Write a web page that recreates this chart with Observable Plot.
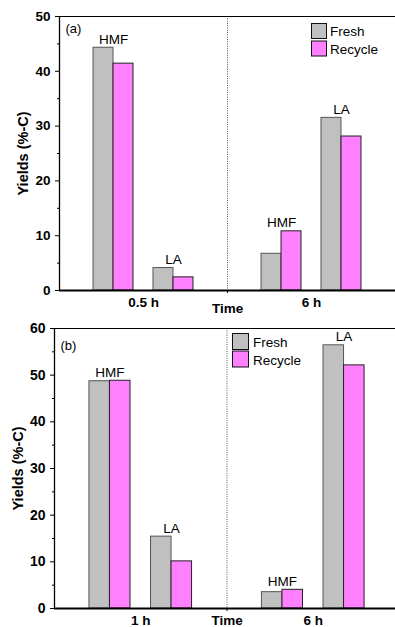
<!DOCTYPE html>
<html>
<head>
<meta charset="utf-8">
<script src="https://cdn.jsdelivr.net/npm/d3@7"></script>
<script src="https://cdn.jsdelivr.net/npm/@observablehq/plot@0.6"></script>
<style>
  html, body { margin: 0; padding: 0; background: #fff; }
  #wrap { position: relative; width: 395px; height: 627px; overflow: hidden; background: #fff; }
  #wrap > svg, #wrap > figure { position: absolute; left: 0; margin: 0; }
  .leg { position: absolute; left: 0; top: 0; }
</style>
</head>
<body>
<div id="wrap"></div>
<script>
// ---- data ----
const series = ["Fresh", "Recycle"];
const seriesColors = ["#c0c0c0", "#ff80ff"];
const products = ["HMF", "LA"];

const timesA = ["0.5 h", "6 h"];
const freshA = [[44.3, 4.1], [6.7, 31.5]];     // [time][product]
const recycleA = [[41.4, 2.4], [10.8, 28.1]];

const timesB = ["1 h", "6 h"];
const freshB = [[48.7, 15.4], [3.5, 56.4]];
const recycleB = [[48.8, 10.1], [4.0, 52.1]];

const yTicksA = [0, 10, 20, 30, 40, 50];
const yTicksB = [0, 10, 20, 30, 40, 50, 60];

// ---- layout constants ----
const OFF = 0.357, W = 0.238;
const FONT = "'Liberation Sans', Arial, Helvetica, sans-serif";

function panel(cfg) {
  const rows = [], labels = [];
  cfg.times.forEach((t, i) => products.forEach((p, j) => {
    const c = 1 + 2 * i + (j === 0 ? -OFF : OFF);
    rows.push({s: series[0], x1: c - W, x2: c, y: cfg.fresh[i][j]});
    rows.push({s: series[1], x1: c, x2: c + W, y: cfg.recycle[i][j]});
    labels.push({x: c, y: Math.max(cfg.fresh[i][j], cfg.recycle[i][j]), t: p});
  }));
  const ymax = cfg.yTicks[cfg.yTicks.length - 1];
  const minor = d3.range(5, ymax, 10);
  return Plot.plot({
    width: 395, height: cfg.height,
    marginTop: cfg.mt, marginBottom: cfg.mb, marginLeft: cfg.ml, marginRight: 0,
    style: {fontFamily: FONT, background: "transparent", color: "#000", overflow: "visible"},
    x: {domain: [0, 4], range: [cfg.ml, cfg.ml + 4 * cfg.unit]},
    y: {domain: [0, ymax]},
    marks: [
      Plot.ruleX([2], {stroke: "#555", strokeWidth: 1, strokeDasharray: "1,1.3"}),
      Plot.rect(rows.filter(d => d.s === series[0]), {x1: "x1", x2: "x2", y1: 0, y2: "y", fill: seriesColors[0], stroke: "#555", strokeWidth: 1}),
      Plot.rect(rows.filter(d => d.s === series[1]), {x1: "x1", x2: "x2", y1: 0, y2: "y", fill: seriesColors[1], stroke: "#222", strokeWidth: 1}),
      Plot.text(labels, {x: "x", y: "y", text: "t", lineAnchor: "bottom", dy: -4, fontSize: 13.5, fill: "#000"}),
      Plot.ruleY([ymax], {stroke: "#000", strokeWidth: 1.2}),
      Plot.ruleY([0], {stroke: "#000", strokeWidth: 2}),
      Plot.ruleX([0], {stroke: "#000", strokeWidth: 1.3}),
      Plot.axisY({ticks: cfg.yTicks, tickSize: 4, tickPadding: 5, fontSize: cfg.tickFont, fontWeight: "bold", label: null, tickFormat: d => d}),
      Plot.axisY({ticks: minor, tickSize: 2, text: null, label: null}),
      Plot.axisX({ticks: [1, 3], tickFormat: d => cfg.times[(d - 1) / 2], tickSize: 0, tickPadding: 7, fontSize: 13.5, fontWeight: "bold", label: null}),
      Plot.axisX({ticks: [2], tickSize: 3, text: null, label: null}),
      Plot.text([{x: 2, t: "Time"}], {x: "x", text: "t", frameAnchor: "bottom", lineAnchor: "top", dy: cfg.timeDy, fontSize: 13.5, fontWeight: "bold"}),
      Plot.text([cfg.tag], {frameAnchor: "top-left", textAnchor: "start", lineAnchor: "top", dx: 6, dy: cfg.tagDy, fontSize: 13}),
      Plot.text(["Yields (%-C)"], {frameAnchor: "left", rotate: -90, dx: -36, textAnchor: "middle", lineAnchor: "middle", fontSize: 14.5, fontWeight: "bold"})
    ]
  });
}

const wrap = document.getElementById("wrap");

const pA = panel({times: timesA, fresh: freshA, recycle: recycleA, yTicks: yTicksA,
  height: 318, mt: 16, mb: 28, ml: 59, unit: 84, tag: "(a)", tagDy: 7, tickFont: 13.5, timeDy: 13});
pA.style.top = "0px";
wrap.appendChild(pA);

const pB = panel({times: timesB, fresh: freshB, recycle: recycleB, yTicks: yTicksB,
  height: 309, mt: 10, mb: 19, ml: 54, unit: 86.25, tag: "(b)", tagDy: 12, tickFont: 14, timeDy: 7});
pB.style.top = "318px";
wrap.appendChild(pB);

// ---- legends (overlay) ----
function legend(x, y, size, gap, tx) {
  const svg = d3.create("svg").attr("class", "leg").attr("width", 395).attr("height", 627)
    .style("position", "absolute").style("left", "0px").style("top", "0px");
  series.forEach((s, i) => {
    const yy = y + i * (size + gap);
    svg.append("rect").attr("x", x + 0.5).attr("y", yy + 0.5).attr("width", size).attr("height", size)
      .attr("fill", seriesColors[i]).attr("stroke", "#111").attr("stroke-width", 1);
    svg.append("text").attr("x", tx).attr("y", yy + size - 2).attr("font-family", FONT)
      .attr("font-size", 13.5).attr("fill", "#000").text(s);
  });
  wrap.appendChild(svg.node());
}
legend(311, 23, 15, 2.5, 330);
legend(232, 333, 16, 1.5, 253);
</script>
</body>
</html>
